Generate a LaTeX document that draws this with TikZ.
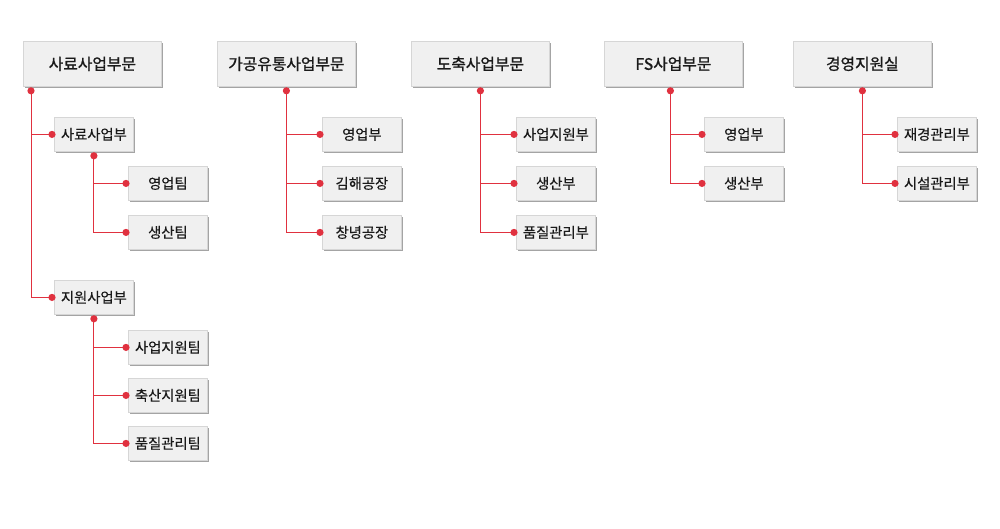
\documentclass[tikz,border=0pt]{standalone}
\usepackage{fontspec}
\setmainfont{Noto Sans CJK KR}
\newfontfamily\topfont{Noto Sans CJK KR}[FakeBold=1.2]
\newfontfamily\subfont{Noto Sans CJK KR}[FakeBold=0.4]
\usetikzlibrary{shadows}
\definecolor{boxfill}{HTML}{F0F0F0}
\definecolor{boxline}{HTML}{D6D6D6}
\definecolor{shadowc}{HTML}{A4A4A4}
\definecolor{redc}{HTML}{E0313F}
\definecolor{txt}{HTML}{1A1A1A}
\tikzset{
 box/.style={rectangle, anchor=north west, fill=boxfill, draw=boxline, line width=0.8pt, text=txt, inner sep=0pt,
   drop shadow={shadow xshift=1.8pt, shadow yshift=-1.8pt, fill=shadowc, opacity=1}},
 topbox/.style={box, minimum width=138pt, minimum height=45pt, font=\topfont\fontsize{15.8}{18}\selectfont},
 subbox/.style={box, minimum width=79pt, minimum height=34pt, font=\subfont\fontsize{14.3}{16}\selectfont},
 link/.style={draw=redc, line width=1pt},
}
\newcommand{\reddot}[1]{\fill[redc] (#1) circle (3.6pt);}
\begin{document}
\begin{tikzpicture}[x=1pt,y=-1pt]
\useasboundingbox[fill=white] (0,0) rectangle (1000,528);
% column 1
\node[topbox] (A1) at (23,41) {사료사업부문};
\node[subbox] (B1) at (54,117) {사료사업부};
\node[subbox] (C1) at (128,166) {영업팀};
\node[subbox] (C2) at (128,215) {생산팀};
\node[subbox] (B2) at (54,280) {지원사업부};
\node[subbox] (C3) at (128,330) {사업지원팀};
\node[subbox] (C4) at (128,378) {축산지원팀};
\node[subbox] (C5) at (128,426) {품질관리팀};
% column 2
\node[topbox] (A2) at (217,41) {가공유통사업부문};
\node[subbox] (D1) at (322,117) {영업부};
\node[subbox] (D2) at (322,166) {김해공장};
\node[subbox] (D3) at (322,215) {창녕공장};
% column 3
\node[topbox] (A3) at (411,41) {도축사업부문};
\node[subbox] (E1) at (516,117) {사업지원부};
\node[subbox] (E2) at (516,166) {생산부};
\node[subbox] (E3) at (516,215) {품질관리부};
% column 4
\node[topbox] (A4) at (604,41) {FS사업부문};
\node[subbox] (F1) at (704,117) {영업부};
\node[subbox] (F2) at (704,166) {생산부};
% column 5
\node[topbox] (A5) at (793,41) {경영지원실};
\node[subbox] (G1) at (897,117) {재경관리부};
\node[subbox] (G2) at (897,166) {시설관리부};

% connector points
\coordinate (a1) at ([xshift=8pt,yshift=-4pt]A1.south west);
\coordinate (b1) at ([yshift=-4pt]B1.south);
\coordinate (b2) at ([yshift=-4pt]B2.south);
\coordinate (a2) at ([yshift=-4pt]A2.south);
\coordinate (a3) at ([yshift=-4pt]A3.south);
\coordinate (a4) at ([xshift=-3pt,yshift=-4pt]A4.south);
\coordinate (a5) at ([yshift=-4pt]A5.south);
\foreach \n in {B1,B2,C1,C2,C3,C4,C5,D1,D2,D3,E1,E2,E3,F1,F2,G1,G2}{
  \coordinate (\n w) at ([xshift=-2pt]\n.west);
}

% connectors
\foreach \p/\c in {a1/B1,a1/B2,b1/C1,b1/C2,b2/C3,b2/C4,b2/C5,a2/D1,a2/D2,a2/D3,a3/E1,a3/E2,a3/E3,a4/F1,a4/F2,a5/G1,a5/G2}{
  \draw[link] (\p) |- (\c w);
}
% dots
\foreach \n in {a1,b1,b2,a2,a3,a4,a5,B1w,B2w,C1w,C2w,C3w,C4w,C5w,D1w,D2w,D3w,E1w,E2w,E3w,F1w,F2w,G1w,G2w}{
  \reddot{\n}
}
\end{tikzpicture}
\end{document}
